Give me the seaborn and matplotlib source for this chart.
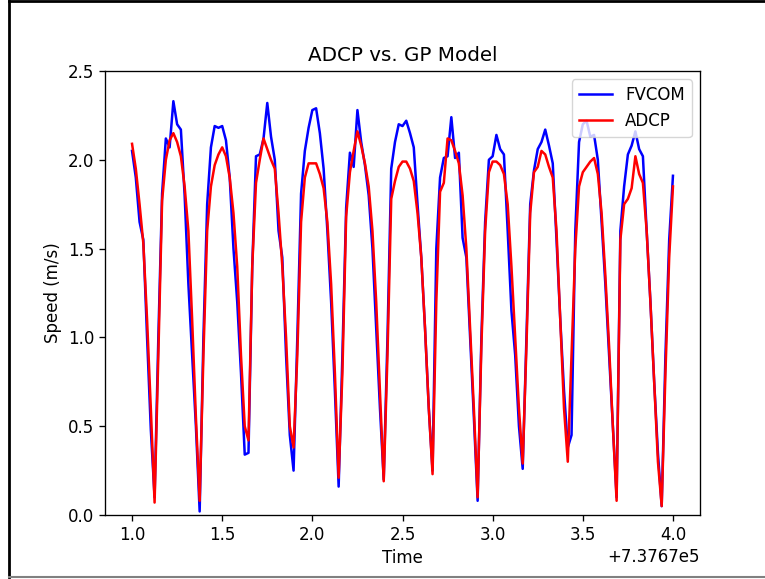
import numpy as np
import seaborn as sns
import matplotlib
matplotlib.use("Agg")
import matplotlib.pyplot as plt
from matplotlib.lines import Line2D

# half-hourly samples, days since offset 737670
t_start = 737671.0
n_samples = 145

fvcom = [
    2.05, 1.90, 1.65, 1.55, 1.00, 0.48, 0.10, 1.00, 1.81, 2.12,
    2.07, 2.33, 2.20, 2.17, 1.80, 1.30, 0.90, 0.50, 0.02, 1.00,
    1.75, 2.07, 2.19, 2.18, 2.19, 2.11, 1.90, 1.50, 1.20, 0.80,
    0.34, 0.35, 1.40, 2.02, 2.03, 2.12, 2.32, 2.13, 2.00, 1.60,
    1.45, 0.90, 0.45, 0.25, 1.00, 1.81, 2.05, 2.18, 2.28, 2.29,
    2.15, 1.95, 1.60, 1.20, 0.70, 0.16, 0.90, 1.73, 2.04, 1.96,
    2.28, 2.10, 1.97, 1.80, 1.50, 1.05, 0.60, 0.20, 1.00, 1.95,
    2.10, 2.20, 2.19, 2.22, 2.15, 2.07, 1.75, 1.45, 1.05, 0.60,
    0.25, 1.50, 1.90, 2.01, 2.02, 2.24, 2.01, 2.04, 1.56, 1.45,
    1.00, 0.55, 0.08, 1.00, 1.65, 2.00, 2.02, 2.14, 2.06, 2.03,
    1.60, 1.15, 0.90, 0.50, 0.26, 1.00, 1.75, 1.94, 2.06, 2.10,
    2.17, 2.08, 1.98, 1.55, 1.10, 0.70, 0.38, 0.45, 1.60, 2.10,
    2.20, 2.22, 2.13, 2.14, 2.00, 1.65, 1.30, 0.90, 0.50, 0.10,
    1.60, 1.85, 2.03, 2.08, 2.16, 2.06, 2.02, 1.60, 1.20, 0.75,
    0.35, 0.05, 0.90, 1.55, 1.91,
]

adcp = [
    2.09, 1.95, 1.75, 1.53, 1.10, 0.60, 0.07, 0.90, 1.77, 2.00,
    2.11, 2.15, 2.10, 2.02, 1.85, 1.60, 1.10, 0.55, 0.08, 0.90,
    1.60, 1.85, 1.97, 2.03, 2.07, 2.02, 1.90, 1.70, 1.40, 0.90,
    0.50, 0.42, 1.40, 1.87, 2.00, 2.12, 2.06, 2.00, 1.95, 1.70,
    1.40, 1.00, 0.50, 0.38, 0.90, 1.65, 1.90, 1.98, 1.98, 1.98,
    1.92, 1.84, 1.65, 1.30, 0.80, 0.21, 0.80, 1.68, 1.93, 2.05,
    2.16, 2.08, 1.98, 1.85, 1.60, 1.20, 0.70, 0.19, 0.90, 1.78,
    1.88, 1.96, 1.99, 1.99, 1.95, 1.88, 1.70, 1.45, 1.05, 0.60,
    0.23, 1.20, 1.82, 1.87, 2.12, 2.11, 2.05, 1.98, 1.80, 1.50,
    1.05, 0.60, 0.10, 0.95, 1.60, 1.93, 1.99, 1.99, 1.97, 1.92,
    1.75, 1.40, 1.00, 0.60, 0.29, 0.95, 1.70, 1.93, 1.96, 2.05,
    2.03, 1.96, 1.90, 1.60, 1.10, 0.60, 0.30, 0.90, 1.50, 1.85,
    1.93, 1.96, 1.99, 2.01, 1.92, 1.70, 1.35, 0.95, 0.50, 0.08,
    1.55, 1.75, 1.78, 1.84, 2.02, 1.92, 1.87, 1.60, 1.20, 0.75,
    0.30, 0.05, 0.80, 1.45, 1.85,
]

time = t_start + np.arange(n_samples) / 48.0

plt.rcParams.update({
    'font.size': 12,
    'axes.titlesize': 14.3,
    'axes.labelsize': 12,
    'xtick.labelsize': 12,
    'ytick.labelsize': 12,
    'legend.fontsize': 12,
    'lines.linewidth': 1.8,
    'axes.linewidth': 0.96,
    'xtick.major.size': 4.2,
    'ytick.major.size': 4.2,
    'xtick.major.width': 0.96,
    'ytick.major.width': 0.96,
})

fig = plt.figure(figsize=(7.65, 5.79), dpi=100)
ax = fig.add_axes([105 / 765, 1 - 515 / 579, 595 / 765, 444 / 579])

sns.lineplot(x=time, y=fvcom, color='blue', label='FVCOM', ax=ax)
sns.lineplot(x=time, y=adcp, color='red', label='ADCP', ax=ax)

ax.set_ylim(0, 2.5)
ax.set_title('ADCP vs. GP Model', pad=7)
ax.set_xlabel('Time')
ax.set_ylabel('Speed (m/s)')
ax.legend(loc='upper right')

# screenshot frame
fig.add_artist(Line2D([8.5 / 765, 8.5 / 765], [0.003, 0.998], color='black', lw=2, transform=fig.transFigure))
fig.add_artist(Line2D([8.5 / 765, 1.0], [0.998, 0.998], color='black', lw=2, transform=fig.transFigure))
fig.add_artist(Line2D([8.5 / 765, 1.0], [0.003, 0.003], color='gray', lw=1.5, transform=fig.transFigure))

fig.savefig('out.png', dpi=100)
